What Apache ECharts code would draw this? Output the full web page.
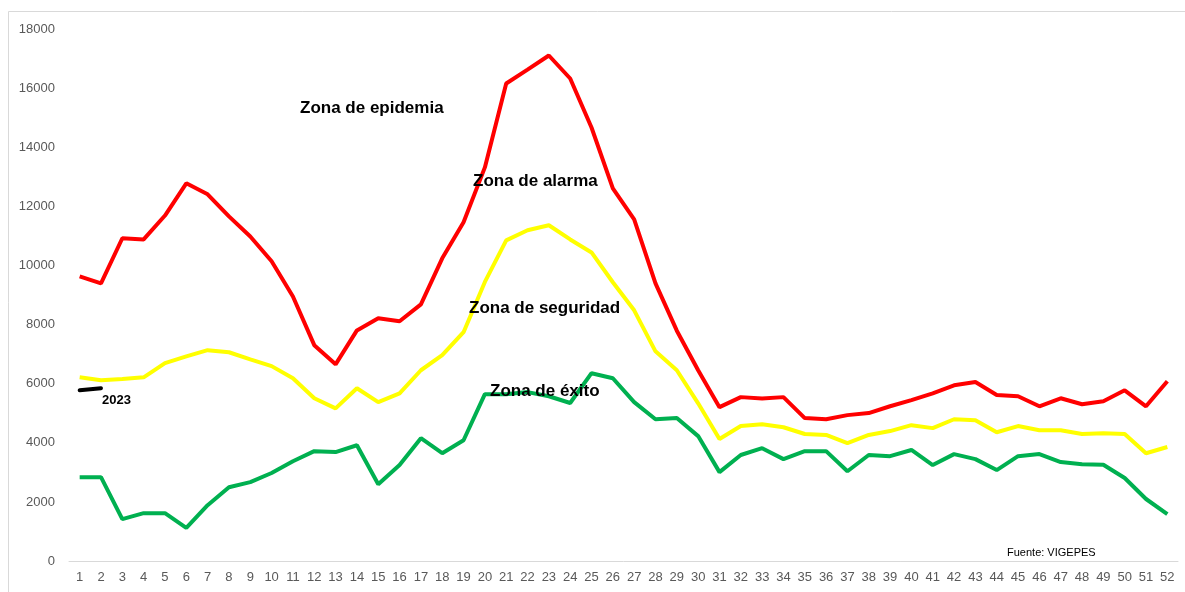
<!DOCTYPE html>
<html>
<head>
<meta charset="utf-8">
<script src="https://cdn.jsdelivr.net/npm/echarts@6/dist/echarts.min.js"></script>
<style>
  html, body { margin: 0; padding: 0; background: #fff; }
  #chart { width: 1185px; height: 592px; }
</style>
</head>
<body>
<div id="chart"></div>
<script>
// semanas epidemiologicas
const weeks = [];
for (let i = 1; i <= 52; i++) weeks.push(String(i));

// zona de epidemia / alarma (limite superior)
const epidemia = [9640, 9400, 10930, 10890, 11700, 12790, 12420, 11670, 10990, 10150,
  8960, 7310, 6660, 7810, 8220, 8120, 8690, 10250, 11470, 13330,
  16170, 16640, 17120, 16340, 14680, 12620, 11570, 9400, 7800, 6460,
  5210, 5550, 5500, 5550, 4840, 4800, 4940, 5010, 5240, 5450,
  5680, 5950, 6060, 5620, 5580, 5240, 5510, 5310, 5410, 5780,
  5240, 6090];

// zona de seguridad (mediana)
const seguridad = [6220, 6120, 6160, 6220, 6700, 6930, 7140, 7070, 6830, 6600,
  6190, 5510, 5170, 5850, 5380, 5680, 6460, 6970, 7750, 9450,
  10860, 11200, 11370, 10890, 10450, 9440, 8490, 7100, 6460, 5340,
  4130, 4570, 4630, 4530, 4300, 4270, 3990, 4270, 4400, 4600,
  4500, 4800, 4770, 4360, 4570, 4430, 4430, 4300, 4330, 4300,
  3650, 3860];

// zona de exito (limite inferior)
const exito = [2840, 2840, 1420, 1620, 1620, 1120, 1890, 2500, 2670, 2980,
  3380, 3720, 3690, 3920, 2600, 3250, 4160, 3650, 4090, 5650,
  5650, 5720, 5580, 5350, 6360, 6190, 5380, 4800, 4840, 4230,
  3010, 3590, 3820, 3450, 3720, 3720, 3040, 3590, 3550, 3760,
  3250, 3620, 3450, 3080, 3550, 3620, 3350, 3280, 3260, 2810,
  2100, 1590];

// casos 2023
const casos2023 = [5780, 5850];

const chart = echarts.init(document.getElementById('chart'));

// etiqueta de zona
const lbl = (text, left, top) => ({
  type: 'text',
  left: left,
  top: top,
  z: 100,
  style: {
    text: text,
    font: 'bold 17px "Liberation Sans", Arial, sans-serif',
    fill: '#000'
  }
});

const option = {
  backgroundColor: '#fff',
  animation: false,
  grid: {
    left: 69,
    right: 7,
    top: 29.5,
    bottom: 31
  },
  xAxis: {
    type: 'category',
    data: weeks,
    boundaryGap: true,
    axisLine: { lineStyle: { color: '#d9d9d9', width: 1 } },
    axisTick: { show: false },
    axisLabel: {
      color: '#595959',
      fontSize: 13,
      fontFamily: '"Liberation Sans", Arial, sans-serif',
      interval: 0,
      margin: 10
    }
  },
  yAxis: {
    type: 'value',
    min: 0,
    max: 18000,
    interval: 2000,
    splitLine: { show: false },
    axisLine: { show: false },
    axisTick: { show: false },
    axisLabel: {
      color: '#595959',
      fontSize: 13,
      fontFamily: '"Liberation Sans", Arial, sans-serif',
      margin: 14,
      formatter: function(v) { return String(v); }
    }
  },
  series: [
    {
      name: 'Epidemia',
      type: 'line',
      data: epidemia,
      showSymbol: false,
      lineStyle: { color: '#ff0000', width: 4 },
      itemStyle: { color: '#ff0000' }
    },
    {
      name: 'Seguridad',
      type: 'line',
      data: seguridad,
      showSymbol: false,
      lineStyle: { color: '#ffff00', width: 4 },
      itemStyle: { color: '#ffff00' }
    },
    {
      name: 'Exito',
      type: 'line',
      data: exito,
      showSymbol: false,
      lineStyle: { color: '#00b050', width: 4 },
      itemStyle: { color: '#00b050' }
    },
    {
      name: '2023',
      type: 'line',
      data: casos2023,
      showSymbol: false,
      lineStyle: { color: '#000', width: 4, cap: 'round' },
      itemStyle: { color: '#000' }
    }
  ],
  graphic: [
    {
      type: 'rect',
      silent: true,
      shape: { x: 8.5, y: 11.5, width: 1200, height: 620 },
      style: { fill: 'none', stroke: '#d9d9d9', lineWidth: 1 }
    },
    lbl('Zona de epidemia', 300, 100),
    lbl('Zona de alarma', 473, 173),
    lbl('Zona de seguridad', 469, 300),
    lbl('Zona de éxito', 490, 383),
    {
      type: 'text',
      left: 102,
      top: 394,
      z: 100,
      style: {
        text: '2023',
        font: 'bold 13px "Liberation Sans", Arial, sans-serif',
        fill: '#000'
      }
    },
    {
      type: 'text',
      left: 1007,
      top: 547,
      z: 100,
      style: {
        text: 'Fuente: VIGEPES',
        font: '11px "Liberation Sans", Arial, sans-serif',
        fill: '#000'
      }
    }
  ]
};

chart.setOption(option);
</script>
</body>
</html>
